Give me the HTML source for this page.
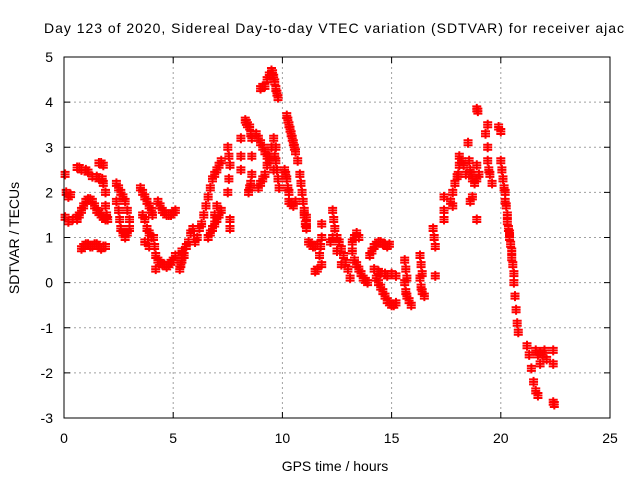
<!DOCTYPE html>
<html><head><meta charset="utf-8"><style>
body{margin:0;background:#fff}
svg{display:block;font-family:"Liberation Sans",sans-serif}
</style></head><body>
<svg id="c" width="640" height="480">
<text x="334" y="33" font-size="14" text-anchor="middle" textLength="580">Day 123 of 2020, Sidereal Day-to-day VTEC variation (SDTVAR) for receiver ajac</text>
<text x="335" y="471" font-size="14" text-anchor="middle">GPS time / hours</text>
<text transform="translate(19,238) rotate(-90)" font-size="14" text-anchor="middle">SDTVAR / TECUs</text>
<g id="grid"></g><g id="ticks"></g><g id="pts"></g>
<rect x="64" y="57" width="546" height="361" fill="none" stroke="#000" stroke-width="1"/>
</svg>
<script>
const xTicks=[0,5,10,15,20,25];
const yTicks=[-3,-2,-1,0,1,2,3,4,5];
const times=[0.05,0.1,0.2,0.3,0.05,0.2,0.4,0.6,
0.6,0.7,0.8,1.0,1.1,1.3,1.5,1.6,1.8,
0.6,0.7,0.8,0.9,1.0,1.1,1.2,1.3,1.4,1.5,1.6,1.7,1.8,1.9,2.0,
0.8,0.9,1.0,1.1,1.2,1.3,1.4,1.5,1.6,1.7,1.8,1.9,
1.6,1.7,1.8,1.9,1.9,1.95,1.8,1.75,
2.4,2.5,2.6,2.7,2.8,2.9,3.0,2.4,2.5,2.55,2.6,2.7,2.8,2.9,3.0,
3.5,3.6,3.7,3.8,3.9,4.0,4.05,3.6,3.7,3.8,3.9,4.0,3.7,3.9,
4.1,4.15,4.2,4.3,4.4,4.5,4.6,4.7,4.8,4.9,5.0,5.1,4.2,
4.3,4.4,4.5,4.6,4.7,4.8,4.9,5.0,5.1,
5.3,5.35,5.4,5.5,5.6,5.7,5.8,5.9,5.4,
6.0,6.1,6.2,6.3,6.4,6.5,6.6,6.7,6.8,6.9,7.0,7.1,7.2,
6.6,6.7,6.8,6.9,7.0,7.1,7.2,7.0,6.9,
7.5,7.55,7.6,7.55,7.5,7.6,7.6,
8.1,8.1,8.1,8.3,8.35,8.4,8.5,8.55,8.6,8.6,8.6,8.55,8.5,8.45,
8.8,8.9,9.0,9.1,9.2,9.3,9.4,8.9,9.0,9.1,9.2,9.3,9.4,9.5,9.6,9.7,
9.0,9.1,9.2,9.3,9.4,9.5,9.55,9.6,9.65,9.7,9.75,9.8,
9.6,9.65,9.7,9.75,9.8,9.85,
10.2,10.25,10.3,10.35,10.4,10.45,10.5,10.55,10.6,10.7,
10.1,10.15,10.2,10.25,10.3,10.3,10.4,10.5,10.6,
10.8,10.85,10.9,10.95,11.0,11.1,11.1,
11.0,11.05,11.1,11.2,11.3,11.4,11.5,11.6,11.5,11.6,
11.8,11.8,11.75,11.7,11.8,
12.3,12.35,12.4,12.5,12.6,12.7,12.8,12.9,13.0,13.1,12.2,12.3,12.5,12.7,
13.2,13.3,13.4,13.5,13.3,13.4,13.5,13.6,13.7,13.8,13.9,13.2,
14.0,14.1,14.2,14.3,14.4,14.5,14.6,14.7,14.8,14.9,14.2,14.4,14.5,14.7,14.8,15.0,15.2,
14.3,14.4,14.5,14.6,14.7,14.8,14.9,15.0,15.1,15.2,
15.6,15.65,15.7,15.6,15.65,15.7,15.8,15.9,
16.3,16.35,16.4,16.3,16.35,16.4,16.5,
16.9,16.95,17.0,17.0,
17.4,17.4,17.4,
17.8,17.8,17.9,18.0,18.05,18.1,18.1,18.2,18.3,18.4,17.7,
18.5,18.55,18.6,18.65,18.7,18.8,18.9,19.0,18.9,18.6,18.7,
18.9,18.95,18.9,
19.3,19.4,19.4,19.4,19.45,19.5,19.6,
19.9,20.0,
20.0,20.05,20.1,20.15,20.2,20.2,20.25,20.3,20.3,20.35,20.4,20.4,20.45,20.5,20.5,20.55,20.6,
20.6,20.65,20.7,20.75,20.8,
21.2,21.3,21.4,21.5,21.6,21.7,
21.6,21.7,21.8,21.9,22.0,22.1,21.8,
22.4,22.4,22.4,22.45];
const values=[2.4,2.0,1.9,1.95,1.45,1.35,1.4,1.45,
2.55,2.55,2.5,2.5,2.45,2.35,2.35,2.3,2.2,
1.4,1.5,1.6,1.7,1.8,1.85,1.85,1.8,1.7,1.6,1.55,1.5,1.45,1.4,1.4,
0.75,0.8,0.85,0.85,0.8,0.8,0.85,0.85,0.8,0.75,0.8,0.8,
2.65,2.65,2.6,2.0,1.7,1.5,1.45,2.3,
2.2,2.1,2.0,1.9,1.8,1.6,1.4,1.8,1.6,1.4,1.2,1.1,1.0,1.1,1.2,
2.1,2.0,1.9,1.8,1.7,1.6,1.5,1.5,1.4,1.2,1.1,1.0,0.9,0.8,
1.0,0.8,0.6,0.5,0.45,0.4,0.4,0.35,0.4,0.45,0.5,0.6,0.3,
1.8,1.7,1.6,1.55,1.5,1.5,1.5,1.55,1.6,
0.3,0.4,0.5,0.6,0.8,0.9,1.1,1.2,0.7,
0.9,1.0,1.2,1.3,1.5,1.7,1.9,2.1,2.3,2.4,2.5,2.6,2.7,
1.0,1.1,1.2,1.3,1.4,1.5,1.6,1.7,1.5,
3.0,2.8,2.6,2.3,2.0,1.4,1.2,
3.2,2.8,2.5,3.6,3.55,3.5,3.45,3.3,3.2,2.8,2.4,2.2,2.1,2.0,
3.3,3.2,3.1,3.0,2.9,2.8,2.7,2.1,2.2,2.3,2.4,2.6,2.8,3.0,3.2,3.0,
4.3,4.35,4.35,4.5,4.6,4.7,4.65,4.55,4.45,4.3,4.2,4.1,
2.5,2.8,2.7,2.5,2.3,2.1,
3.7,3.6,3.5,3.4,3.3,3.2,3.1,3.0,2.9,2.7,
2.5,2.4,2.3,2.1,2.0,1.8,1.75,1.7,1.8,
2.4,2.2,2.0,1.8,1.6,1.45,1.3,
1.5,1.3,1.2,0.9,0.85,0.8,0.8,0.85,0.25,0.3,
1.3,1.0,0.8,0.6,0.4,
1.6,1.4,1.2,1.0,0.9,0.75,0.6,0.45,0.3,0.1,0.9,1.0,0.7,0.4,
0.9,1.0,1.1,1.0,0.5,0.4,0.3,0.2,0.1,0.05,0.0,0.7,
0.6,0.7,0.8,0.85,0.9,0.9,0.85,0.85,0.8,0.85,0.3,0.25,0.2,0.2,0.15,0.2,0.15,
0.1,0.0,-0.1,-0.2,-0.3,-0.4,-0.45,-0.5,-0.5,-0.45,
0.5,0.3,0.1,0.0,-0.2,-0.3,-0.4,-0.5,
0.6,0.4,0.2,0.1,-0.1,-0.2,-0.3,
1.2,1.0,0.8,0.15,
1.9,1.6,1.4,
1.7,2.0,2.2,2.35,2.4,2.6,2.8,2.7,2.6,2.4,1.8,
3.1,2.7,2.5,2.4,2.3,2.2,2.3,2.4,2.6,1.8,1.9,
3.85,3.8,1.4,
3.3,3.5,3.0,2.7,2.5,2.4,2.2,
3.45,3.35,
2.7,2.5,2.3,2.1,2.0,1.8,1.7,1.5,1.35,1.2,1.1,1.0,0.85,0.7,0.55,0.4,0.2,
0.0,-0.3,-0.6,-0.9,-1.1,
-1.4,-1.6,-1.9,-2.2,-2.4,-2.5,
-1.5,-1.6,-1.55,-1.6,-1.5,-1.7,-1.8,
-1.5,-1.8,-2.65,-2.7];
const NS='http://www.w3.org/2000/svg';
const X0=64,X1=610,Y0=418,Y1=57;
function sx(t){return X0+(t-0)/(25-0)*(X1-X0);}
function sy(v){return Y0-(v-(-3))/(5-(-3))*(Y0-Y1);}
function mk(tag,a){const e=document.createElementNS(NS,tag);for(const k in a)e.setAttribute(k,a[k]);return e;}
const grid=document.getElementById('grid'),ticks=document.getElementById('ticks'),pts=document.getElementById('pts');
xTicks.forEach(t=>{
  const x=sx(t);
  if(t>0&&t<25){const g=mk('line',{x1:x,y1:Y1,x2:x,y2:Y0,stroke:'#a0a0a0','stroke-dasharray':'2,3'});
  
  grid.appendChild(g);}
  const tk=mk('path',{d:`M${x},${Y0}v-6M${x},${Y1}v6`,stroke:'#000'});
  
  ticks.appendChild(tk);
  const l=mk('text',{x:x,y:443,'font-size':14,'text-anchor':'middle'});l.textContent=t;
  
  ticks.appendChild(l);
});
yTicks.forEach(v=>{
  const y=sy(v);
  if(v>-3&&v<5){const g=mk('line',{x1:X0,y1:y,x2:X1,y2:y,stroke:'#a0a0a0','stroke-dasharray':'2,3'});
  
  grid.appendChild(g);}
  const tk=mk('path',{d:`M${X0},${y}h6M${X1},${y}h-6`,stroke:'#000'});
  
  ticks.appendChild(tk);
  const l=mk('text',{x:53,y:y+5,'font-size':14,'text-anchor':'end'});l.textContent=v;
  
  ticks.appendChild(l);
});
times.forEach((t,i)=>{
  const x=sx(t),y=sy(values[i]);
  const p=mk('path',{d:`M${x-4.5},${y}h9M${x},${y-5}v10M${x-4.5},${y-2.5}h9M${x-4.5},${y+2.5}h9`,stroke:'#ff0000','stroke-width':2,fill:'none'});
  
  
  pts.appendChild(p);
});
</script>
</body></html>
